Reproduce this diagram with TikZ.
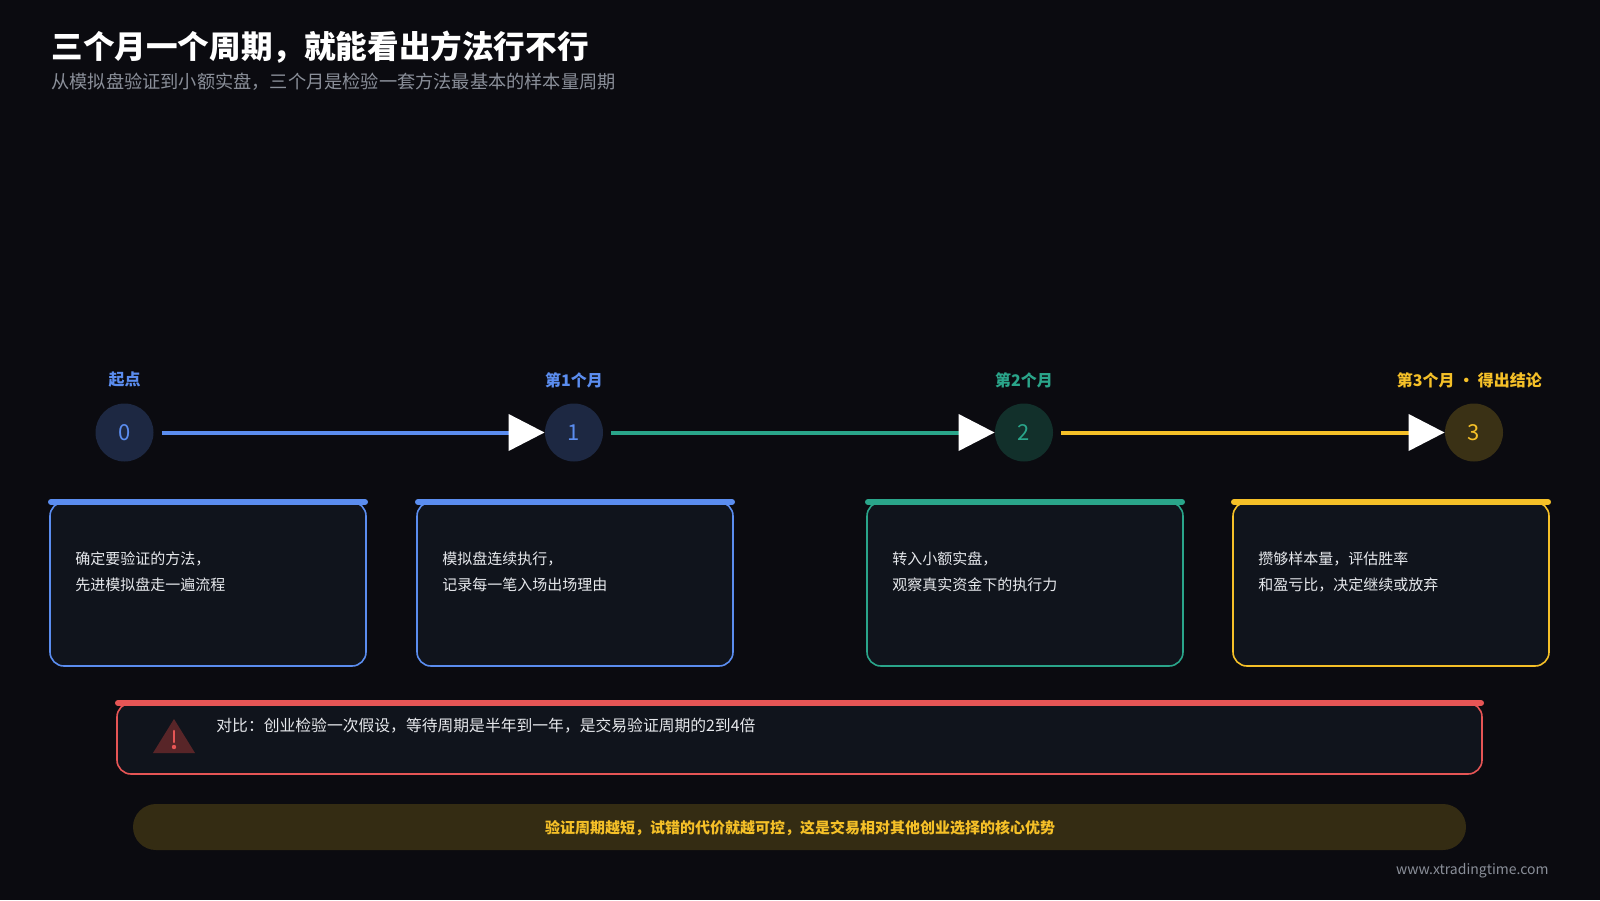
\documentclass[tikz,border=0pt]{standalone}
\usepackage{fontspec}
\setmainfont{Noto Sans CJK SC}
\usetikzlibrary{arrows.meta}
\definecolor{bg}{HTML}{0B0B10}
\definecolor{cardbg}{HTML}{10141C}
\definecolor{cb}{HTML}{5B8DEF}
\definecolor{ct}{HTML}{2AA58A}
\definecolor{cy}{HTML}{F5C028}
\definecolor{cr}{HTML}{E65555}
\definecolor{fb}{HTML}{1D2842}
\definecolor{ft}{HTML}{12302B}
\definecolor{fy}{HTML}{3A3115}
\definecolor{sub}{HTML}{8A8F99}
\definecolor{txt}{HTML}{E6E8EC}
\begin{document}
\begin{tikzpicture}[x=0.5pt,y=-0.5pt,
  circ/.style={circle,minimum size=29pt,inner sep=0pt,font=\fontsize{11}{12}\selectfont},
  lab/.style={font=\bfseries\fontsize{8}{10}\selectfont},
  card/.style={rounded corners=7pt,fill=cardbg,line width=0.8pt},
  ctext/.style={anchor=north west,align=left,text=txt,font=\fontsize{7.5}{13}\selectfont,inner sep=0pt},
  conn/.style={line width=2pt,-{Triangle[length=18pt,width=18pt,fill=white,color=white]}}]
\fill[bg] (0,0) rectangle (1600,900);
\useasboundingbox (0,0) rectangle (1600,900);
\node[anchor=west,text=white,font=\bfseries\fontsize{15.8}{18}\selectfont,inner sep=0pt] (title) at (51,47) {三个月一个周期，就能看出方法行不行};
\node[anchor=west,text=sub,font=\fontsize{9.1}{10}\selectfont,inner sep=0pt] (subtitle) at (51,82) {从模拟盘验证到小额实盘，三个月是检验一套方法最基本的样本量周期};
% circles
\node[circ,fill=fb,text=cb] (c0) at (124.5,432.5) {0};
\node[circ,fill=fb,text=cb] (c1) at (574,432.5) {1};
\node[circ,fill=ft,text=ct] (c2) at (1024,432.5) {2};
\node[circ,fill=fy,text=cy] (c3) at (1474,432.5) {3};
\node[lab,text=cb] (l0) at (124.5,380) {起点};
\node[lab,text=cb] (l1) at (574,380) {第1个月};
\node[lab,text=ct] (l2) at (1024,380) {第2个月};
\node[lab,text=cy,anchor=east] (l3) at (1549,380) {第3个月 · 得出结论};
\draw[conn,cb] ([xshift=4pt]c0.east) -- (c1.west);
\draw[conn,ct] ([xshift=4pt]c1.east) -- (c2.west);
\draw[conn,cy] ([xshift=4pt]c2.east) -- (c3.west);
% cards
\foreach \x/\c/\n/\t in {50/cb/k0/{确定要验证的方法，\\先进模拟盘走一遍流程},417/cb/k1/{模拟盘连续执行，\\记录每一笔入场出场理由},867/ct/k2/{转入小额实盘，\\观察真实资金下的执行力},1233/cy/k3/{攒够样本量，评估胜率\\和盈亏比，决定继续或放弃}}{
  \draw[card,draw=\c] (\x,502) rectangle (\x+316,666);
  \draw[\c,line width=3pt,line cap=round] (\x+1,502) -- (\x+315,502);
  \node[ctext] (\n) at (\x+25,551) {\t};
}
% red box
\draw[card,draw=cr] (117,703) rectangle (1482,774);
\draw[cr,line width=3pt,line cap=round] (118,703) -- (1481,703);
\fill[cr!35!bg] (174,719) -- (195,753) -- (153,753) -- cycle;
\draw[cr,line width=1.3pt,line cap=round] (174,731) -- (174,742);
\fill[cr] (174,747) circle (1.1pt);
\node[anchor=west,text=txt,font=\fontsize{7.9}{10}\selectfont,inner sep=0pt] (warn) at (216,726) {对比：创业检验一次假设，等待周期是半年到一年，是交易验证周期的2到4倍};
% pill
\fill[fy!90!black,rounded corners=11.5pt] (133,804) rectangle (1466,850);
\node[text=cy,font=\bfseries\fontsize{7.5}{10}\selectfont] (concl) at (800,828) {验证周期越短，试错的代价就越可控，这是交易相对其他创业选择的核心优势};
\node[anchor=east,text=sub,font=\fontsize{7}{9}\selectfont,inner sep=0pt] (footer) at (1549,871) {www.xtradingtime.com};
\end{tikzpicture}
\end{document}
